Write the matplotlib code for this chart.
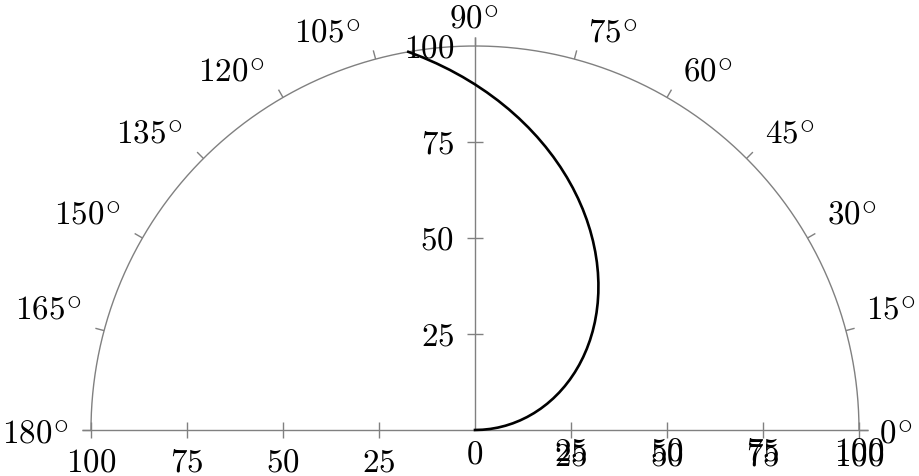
import numpy as np
import matplotlib
matplotlib.use("Agg")
import matplotlib.pyplot as plt
from matplotlib.transforms import offset_copy
try:
    import matplotlib._mathtext as _mt
    _mt.SHRINK_FACTOR = 0.9  # larger degree circle, closer to LaTeX look
    _mt.ComputerModernFontConstants.subdrop = 0.42
    _mt.ComputerModernFontConstants.sup1 = 0.3
except Exception:
    pass

# ---- data ----
theta_deg = [0, 2, 4, 6, 8, 10, 12, 14, 16, 18, 20, 22, 24, 26, 28, 30, 32, 34,
             36, 38, 40, 42, 44, 46, 48, 50, 52, 54, 56, 58, 60, 62, 64, 66, 68,
             70, 72, 74, 76, 78, 80, 82, 84, 86, 88, 90, 92, 94, 96, 98, 100]
radius = [0, 2, 4, 6, 8, 10, 12, 14, 16, 18, 20, 22, 24, 26, 28, 30, 32, 34,
          36, 38, 40, 42, 44, 46, 48, 50, 52, 54, 56, 58, 60, 62, 64, 66, 68,
          70, 72, 74, 76, 78, 80, 82, 84, 86, 88, 90, 92, 94, 96, 98, 100]

angle_ticks = [0, 15, 30, 45, 60, 75, 90, 105, 120, 135, 150, 165, 180]
angle_labels = [r"$0^{\circ}$", r"$15^{\circ}$", r"$30^{\circ}$", r"$45^{\circ}$",
                r"$60^{\circ}$", r"$75^{\circ}$", r"$90^{\circ}$", r"$105^{\circ}$",
                r"$120^{\circ}$", r"$135^{\circ}$", r"$150^{\circ}$", r"$165^{\circ}$",
                r"$180^{\circ}$"]
radial_ticks = [25, 50, 75, 100]
radial_labels = [r"$25$", r"$50$", r"$75$", r"$100$"]
rmax = 100

plt.rcParams["mathtext.fontset"] = "cm"
plt.rcParams["font.family"] = ["DejaVu Serif"]
FS = 23.8
GRAY = "#808080"
LW_AX = 1.0
PX = 200.0 / 768.0  # data units per pixel

fig = plt.figure(figsize=(9.19, 4.77), dpi=100)
ax = fig.add_axes([91 / 919, 46 / 477, 768 / 919, 384 / 477])
ax.set_xlim(-rmax, rmax)
ax.set_ylim(0, rmax)
ax.axis("off")

def seg(x, y, **kw):
    ax.plot(x, y, color=GRAY, lw=LW_AX, clip_on=False, solid_capstyle="butt", **kw)

# outer half circle
t = np.linspace(0, np.pi, 500)
seg(rmax * np.cos(t), rmax * np.sin(t))
# base line (includes 0 and 180 deg outward ticks)
tick_out = 9 * PX
seg([-rmax - tick_out, rmax + tick_out], [0, 0])
# vertical radial axis at 90 deg
seg([0, 0], [0, rmax + tick_out])

# angle ticks on arc
for a in angle_ticks:
    c, s = np.cos(np.radians(a)), np.sin(np.radians(a))
    seg([rmax * c, (rmax + tick_out) * c], [rmax * s, (rmax + tick_out) * s])

# radial ticks along base line (both sides) and vertical axis
tl = 8 * PX
for r in radial_ticks:
    for sgn in (-1, 1):
        seg([sgn * r, sgn * r], [-tl, tl])
for r in radial_ticks[:-1]:
    seg([-tl, tl], [r, r])

# the curve
th = np.radians(np.array(theta_deg, dtype=float))
rr = np.array(radius, dtype=float)
ax.plot(rr * np.cos(th), rr * np.sin(th), color="black", lw=1.9,
        clip_on=False, zorder=5, solid_joinstyle="round")

def txt(x, y, s, dx, dy, ha, va="baseline"):
    tr = offset_copy(ax.transData, fig=fig, x=dx, y=dy, units="dots")
    ax.text(x, y, s, transform=tr, ha=ha, va=va, fontsize=FS, clip_on=False)

# angle labels
for a, lab in zip(angle_ticks, angle_labels):
    c, s = np.cos(np.radians(a)), np.sin(np.radians(a))
    x, y = rmax * c, rmax * s
    if a == 0:
        txt(x, y, lab, 20, -12, "left")
    elif a == 180:
        txt(x, y, lab, -22, -12, "right")
    elif a == 90:
        txt(x, y, lab, -1, 19, "center")
    elif c > 0:
        txt(x, y, lab, 20 * abs(c) ** 0.3, 19 * s ** 0.3, "left")
    else:
        txt(x, y, lab, -23 * abs(c) ** 0.3, 19 * s ** 0.3, "right")

# radial labels: left side of base line
for r, lab in zip(radial_ticks, radial_labels):
    txt(-r, 0, lab, 0, -41, "center")
txt(0, 0, r"$0$", 0, -33, "center")
# right side: two overlapping sets
for r, lab in zip(radial_ticks, radial_labels):
    txt(r, 0, lab, 0, -30, "center")
    txt(r, 0, lab, 0, -35, "center")
# vertical axis labels
for r, lab in zip(radial_ticks, radial_labels):
    txt(0, r, lab, -21, -10.7, "right")

fig.savefig("out.png", dpi=100)
